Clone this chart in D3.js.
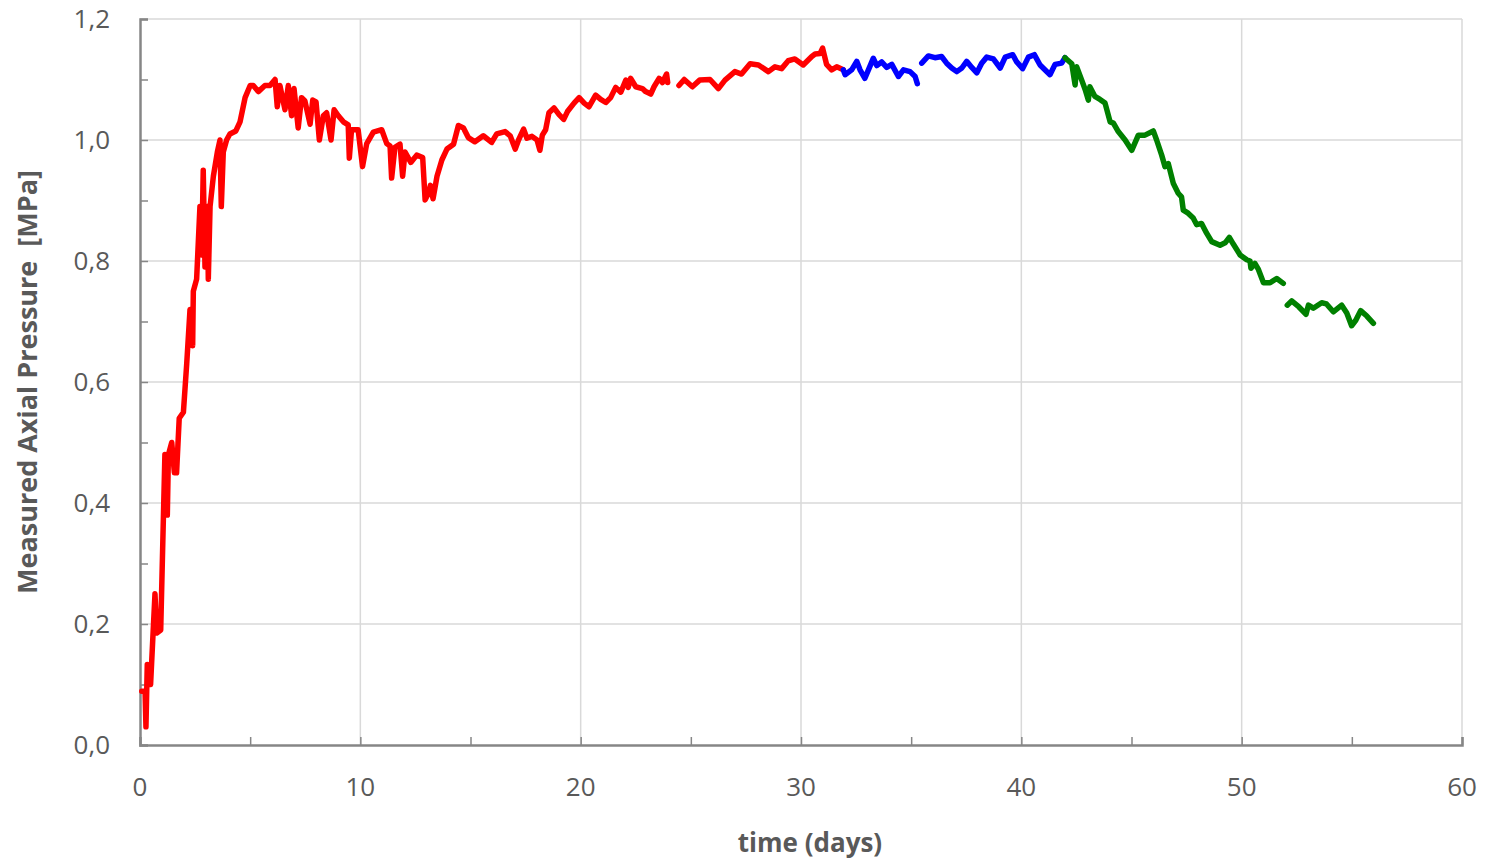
<!DOCTYPE html>
<html>
<head>
<meta charset="utf-8">
<script src="https://cdn.jsdelivr.net/npm/d3@7"></script>
<style>
  body { margin: 0; background: #fff; }
  svg { font-family: "Open Sans", "Liberation Sans", sans-serif; }
</style>
</head>
<body>
<div id="chart"></div>
<script>
// time (days) / measured axial pressure (MPa), null = gap in the record
var redDays = [0.08,0.23,0.27,0.33,0.48,0.68,0.76,0.94,1.13,1.24,1.29,1.44,1.56,1.66,1.78,1.97,2.12,2.27,2.39,2.42,2.57,2.72,2.80,2.87,2.95,3.06,3.10,3.18,3.33,3.51,3.63,3.69,3.78,3.93,4.08,4.35,4.54,4.77,5.00,5.14,5.37,5.67,5.90,6.13,6.23,6.35,6.58,6.73,6.88,6.99,7.18,7.33,7.48,7.72,7.84,7.99,8.14,8.32,8.47,8.67,8.81,9.00,9.23,9.45,9.50,9.60,9.90,10.10,10.29,10.59,10.97,11.20,11.35,11.42,11.57,11.80,11.92,12.03,12.29,12.56,12.83,12.94,13.09,13.18,13.30,13.48,13.70,13.93,14.23,14.45,14.68,14.90,15.20,15.58,15.96,16.19,16.57,16.80,17.03,17.18,17.41,17.56,17.79,18.02,18.15,18.26,18.41,18.56,18.79,19.02,19.23,19.40,19.70,19.93,20.16,20.38,20.68,20.91,21.14,21.36,21.59,21.82,22.05,22.16,22.27,22.50,22.80,22.95,23.18,23.33,23.56,23.71,23.90,23.95,null,24.46,24.70,25.07,25.40,25.87,26.25,26.55,27.00,27.30,27.69,28.07,28.52,28.82,29.12,29.42,29.72,30.10,30.49,30.64,30.87,30.98,31.16,31.39,31.62,31.92];
var redMPa = [0.089,0.089,0.03,0.133,0.10,0.25,0.185,0.19,0.48,0.38,0.48,0.50,0.45,0.45,0.54,0.55,0.63,0.72,0.66,0.75,0.77,0.89,0.81,0.95,0.79,0.89,0.77,0.89,0.94,0.98,1.00,0.89,0.98,1.00,1.01,1.015,1.03,1.07,1.09,1.09,1.08,1.09,1.09,1.10,1.055,1.09,1.05,1.09,1.04,1.085,1.02,1.07,1.065,1.026,1.066,1.063,1.00,1.04,1.045,1.00,1.05,1.04,1.03,1.025,0.97,1.017,1.017,0.956,0.994,1.013,1.017,0.994,0.99,0.937,0.988,0.993,0.94,0.98,0.963,0.975,0.971,0.901,0.912,0.925,0.903,0.94,0.967,0.985,0.993,1.024,1.02,1.004,0.997,1.007,0.996,1.01,1.014,1.007,0.985,1.0,1.018,1.003,1.006,1.0,0.983,1.008,1.017,1.045,1.053,1.042,1.034,1.047,1.061,1.07,1.061,1.055,1.074,1.067,1.062,1.070,1.087,1.079,1.099,1.087,1.102,1.088,1.085,1.08,1.076,1.088,1.102,1.095,1.109,1.095,null,1.09,1.10,1.088,1.099,1.10,1.085,1.099,1.113,1.109,1.126,1.124,1.113,1.121,1.118,1.131,1.134,1.124,1.138,1.142,1.143,1.152,1.125,1.116,1.121,1.116];

var blueDays = [31.92,32.00,32.30,32.53,32.68,32.90,33.06,33.28,33.44,33.66,33.89,34.12,34.42,34.65,34.95,35.18,35.28,null,35.48,35.78,36.08,36.38,36.61,36.84,37.07,37.30,37.52,37.75,37.98,38.20,38.43,38.73,39.04,39.27,39.61,39.79,40.06,40.32,40.59,40.85,41.30,41.53,41.83,41.98];
var blueMPa = [1.116,1.108,1.116,1.13,1.116,1.102,1.116,1.135,1.123,1.129,1.12,1.125,1.105,1.116,1.113,1.105,1.093,null,1.127,1.139,1.136,1.138,1.127,1.119,1.113,1.119,1.13,1.12,1.111,1.127,1.137,1.134,1.119,1.137,1.141,1.129,1.118,1.137,1.141,1.124,1.108,1.125,1.127,1.136];

var greenDays = [41.98,42.29,42.44,42.51,42.74,42.90,43.04,43.11,43.34,43.57,43.80,44.03,44.18,44.40,44.71,45.01,45.31,45.61,45.99,46.14,46.37,46.52,46.67,46.90,47.12,47.27,47.35,47.57,47.80,47.96,48.18,48.41,48.64,49.02,49.25,49.44,49.62,49.93,50.23,50.38,50.42,50.60,50.76,50.99,51.29,51.59,51.89,null,52.07,52.27,52.60,52.92,53.03,53.25,53.63,53.85,54.16,54.54,54.77,54.99,55.18,55.40,55.68,55.98];
var greenMPa = [1.136,1.126,1.091,1.121,1.099,1.083,1.066,1.088,1.072,1.067,1.061,1.03,1.028,1.014,1.0,0.983,1.008,1.008,1.015,1.0,0.975,0.956,0.961,0.928,0.912,0.906,0.884,0.879,0.871,0.86,0.862,0.846,0.832,0.826,0.830,0.839,0.828,0.81,0.802,0.8,0.788,0.796,0.786,0.764,0.764,0.771,0.763,null,0.727,0.734,0.724,0.712,0.727,0.722,0.731,0.729,0.716,0.727,0.714,0.693,0.702,0.718,0.709,0.697];

var xTicks = [0, 10, 20, 30, 40, 50, 60];
var yTicks = [0, 0.2, 0.4, 0.6, 0.8, 1.0, 1.2];

var margin = {top: 19, right: 27, bottom: 114, left: 140},
    width = 1489 - margin.left - margin.right,
    height = 859 - margin.top - margin.bottom;

var svg = d3.select("#chart")
  .append("svg")
  .attr("width", 1489)
  .attr("height", 859)
  .append("g")
  .attr("transform", "translate(" + margin.left + "," + margin.top + ")");

var x = d3.scaleLinear().domain([0, 60]).range([0, width]);
var y = d3.scaleLinear().domain([0, 1.2]).range([height, 0]);

var comma = function(d) { return d3.format(".1f")(d).replace(".", ","); };

// gridlines
svg.append("g")
  .selectAll("line")
  .data(xTicks.slice(1))
  .enter().append("line")
  .attr("x1", d => x(d)).attr("x2", d => x(d))
  .attr("y1", 0).attr("y2", height)
  .attr("stroke", "#d9d9d9").attr("stroke-width", 1.5);

svg.append("g")
  .selectAll("line")
  .data(yTicks.slice(1))
  .enter().append("line")
  .attr("x1", 0).attr("x2", width)
  .attr("y1", d => y(d)).attr("y2", d => y(d))
  .attr("stroke", "#d9d9d9").attr("stroke-width", 1.5);

// axes, ticks pointing inward
var xAxis = svg.append("g")
  .attr("transform", "translate(0," + height + ")")
  .call(d3.axisBottom(x).tickValues(d3.range(0, 61, 5)).tickSize(-8).tickFormat(""));
var yAxis = svg.append("g")
  .call(d3.axisLeft(y).tickValues(d3.range(0, 1.21, 0.1)).tickSize(-8).tickFormat(""));

[xAxis, yAxis].forEach(function(a) {
  a.select(".domain").attr("stroke", "#868686").attr("stroke-width", 2.5);
  a.selectAll(".tick line").attr("stroke", "#868686").attr("stroke-width", 1.5);
});

// tick labels
svg.append("g")
  .selectAll("text")
  .data(xTicks)
  .enter().append("text")
  .attr("x", d => x(d))
  .attr("y", height + 51)
  .attr("text-anchor", "middle")
  .style("font-size", "26px")
  .style("fill", "#595959")
  .text(d => d);

svg.append("g")
  .selectAll("text")
  .data(yTicks)
  .enter().append("text")
  .attr("x", -30)
  .attr("y", d => y(d) + 9)
  .attr("text-anchor", "end")
  .style("font-size", "26px")
  .style("fill", "#595959")
  .text(comma);

// axis titles
svg.append("text")
  .attr("x", width / 2 + 9)
  .attr("y", height + 107)
  .attr("text-anchor", "middle")
  .style("font-size", "26px")
  .style("font-weight", "bold")
  .style("fill", "#595959")
  .text("time (days)");

svg.append("text")
  .attr("transform", "translate(-103," + y(0.6) + ") rotate(-90)")
  .attr("text-anchor", "middle")
  .style("font-size", "27px")
  .style("font-weight", "bold")
  .style("fill", "#595959")
  .style("white-space", "pre")
  .text("Measured Axial Pressure  [MPa]");

// pressure records
var line = d3.line()
  .defined(d => d[0] !== null)
  .x(d => x(d[0]))
  .y(d => y(d[1]));

var series = [
  {days: redDays, mpa: redMPa, color: "#ff0000"},
  {days: blueDays, mpa: blueMPa, color: "#0000ff"},
  {days: greenDays, mpa: greenMPa, color: "#008000"}
];

svg.append("g")
  .selectAll("path")
  .data(series)
  .enter().append("path")
  .attr("d", s => line(s.days.map((t, i) => [t, s.mpa[i]])))
  .attr("fill", "none")
  .attr("stroke", s => s.color)
  .attr("stroke-width", 5.5)
  .attr("stroke-linejoin", "round")
  .attr("stroke-linecap", "round");
</script>
</body>
</html>
